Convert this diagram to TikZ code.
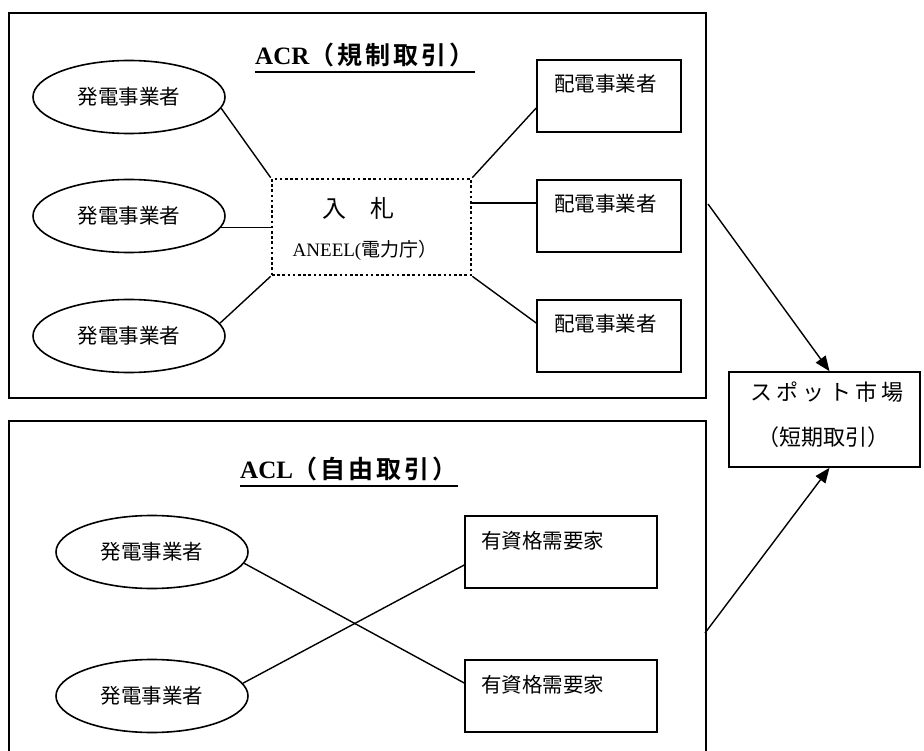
\documentclass[tikz,border=0pt]{standalone}
\usepackage{fontspec}
\setmainfont{Liberation Serif}
\newfontfamily\jp{Noto Sans CJK JP}[BoldFont={Noto Sans CJK JP Bold}]
\usetikzlibrary{shapes.geometric,arrows.meta,calc}
\tikzset{
  frame/.style={draw, line width=1.6pt, inner sep=0pt},
  box/.style={draw, line width=1.6pt, inner sep=0pt},
  oval/.style={draw, ellipse, line width=1.6pt, inner sep=0pt, minimum width=192pt, minimum height=73pt,
    font=\jp\fontsize{20.5}{24}\selectfont},
  bidbox/.style={draw, line width=2.6pt, dash pattern=on 2.6pt off 2.6pt, inner sep=0pt},
  lbl/.style={inner sep=0pt, font=\jp\fontsize{20.5}{24}\selectfont},
  conn/.style={line width=1.4pt},
  arr/.style={line width=1.4pt, -{Triangle[length=15pt,width=12pt]}},
  ttl/.style={inner sep=0pt, anchor=base west, font=\bfseries\fontsize{25}{30}\selectfont}
}
\begin{document}
\begin{tikzpicture}[x=1pt,y=-1pt]
\useasboundingbox (0,0) rectangle (924,751);
\clip (0,0) rectangle (924,751);
% frames
\node[frame, minimum width=697pt, minimum height=385pt, anchor=north west] (acr) at (8,12) {};
\node[frame, minimum width=697pt, minimum height=345pt, anchor=north west] (acl) at (8,420) {};
% titles
\node[ttl] (t1) at (255,65) {ACR{\jp\addfontfeature{LetterSpace=12}（規制取引）}};
\draw[line width=1.8pt] ([yshift=-7pt]t1.base west) -- ([yshift=-7pt]t1.base east);
\node[ttl] (t2) at (240,478) {ACL{\jp\addfontfeature{LetterSpace=12}（自由取引）}};
\draw[line width=1.8pt] ([yshift=-8pt]t2.base west) -- ([yshift=-8pt]t2.base east);
% ACR generators
\node[oval] (e1) at (129,97) {発電事業者};
\node[oval] (e2) at (129,216) {発電事業者};
\node[oval] (e3) at (129,336) {発電事業者};
% bid box
\node[bidbox, minimum width=199pt, minimum height=96pt] (bid) at (371.5,227) {};
\node[inner sep=0pt, font=\jp\fontsize{24}{28}\selectfont] (bidt) at (358,208) {入　札};
\node[inner sep=0pt, font=\fontsize{19}{23}\selectfont] (bida) at (365,250) {ANEEL({\jp 電力庁）}};
% distributors
\node[box, minimum width=144pt, minimum height=72pt] (d1) at (609,96) {};
\node[box, minimum width=144pt, minimum height=72pt] (d2) at (609,216) {};
\node[box, minimum width=144pt, minimum height=72pt] (d3) at (609,336) {};
\node[lbl, anchor=west] (d1t) at ($(d1.north west)+(18,25)$) {配電事業者};
\node[lbl, anchor=west] (d2t) at ($(d2.north west)+(18,25)$) {配電事業者};
\node[lbl, anchor=west] (d3t) at ($(d3.north west)+(18,25)$) {配電事業者};
% ACR connectors
\draw[conn] (e1.-7) -- (bid.north west);
\draw[conn] (e2.-7) -- (e2.-7 -| bid.west);
\draw[conn] (e3.8) -- (bid.south west);
\draw[conn] (bid.north east) -- ([yshift=-12pt]d1.west);
\draw[conn] ([yshift=13pt]d2.west -| bid.east) -- ([yshift=13pt]d2.west);
\draw[conn] (bid.south east) -- ([yshift=13pt]d3.west);
% ACL
\node[oval] (f1) at (152,552) {発電事業者};
\node[oval] (f2) at (152,696) {発電事業者};
\node[box, minimum width=192pt, minimum height=72pt] (q1) at (561,552) {};
\node[box, minimum width=192pt, minimum height=72pt] (q2) at (561,696) {};
\node[lbl, anchor=west] (q1t) at ($(q1.north west)+(17,26)$) {有資格需要家};
\node[lbl, anchor=west] (q2t) at ($(q2.north west)+(17,26)$) {有資格需要家};
\draw[conn] (f1.-7) -- ([yshift=13pt]q2.west);
\draw[conn] (f2.8) -- ([yshift=-13pt]q1.west);
% spot market
\node[box, minimum width=191pt, minimum height=95pt] (spot) at (824.5,419.5) {};
\node[inner sep=0pt, font=\jp\fontsize{22}{26}\selectfont\addfontfeature{LetterSpace=20}] (sp1) at (827,392) {スポット市場};
\node[inner sep=0pt, font=\jp\fontsize{22}{26}\selectfont] (sp2) at (823.5,437) {（短期取引）};
\coordinate (a1) at (708,204);
\coordinate (a2) at (705,633);
\draw[arr] (a1) -- ([xshift=5pt]spot.north);
\draw[arr] (a2) -- ([xshift=5pt]spot.south);
\end{tikzpicture}
\end{document}
